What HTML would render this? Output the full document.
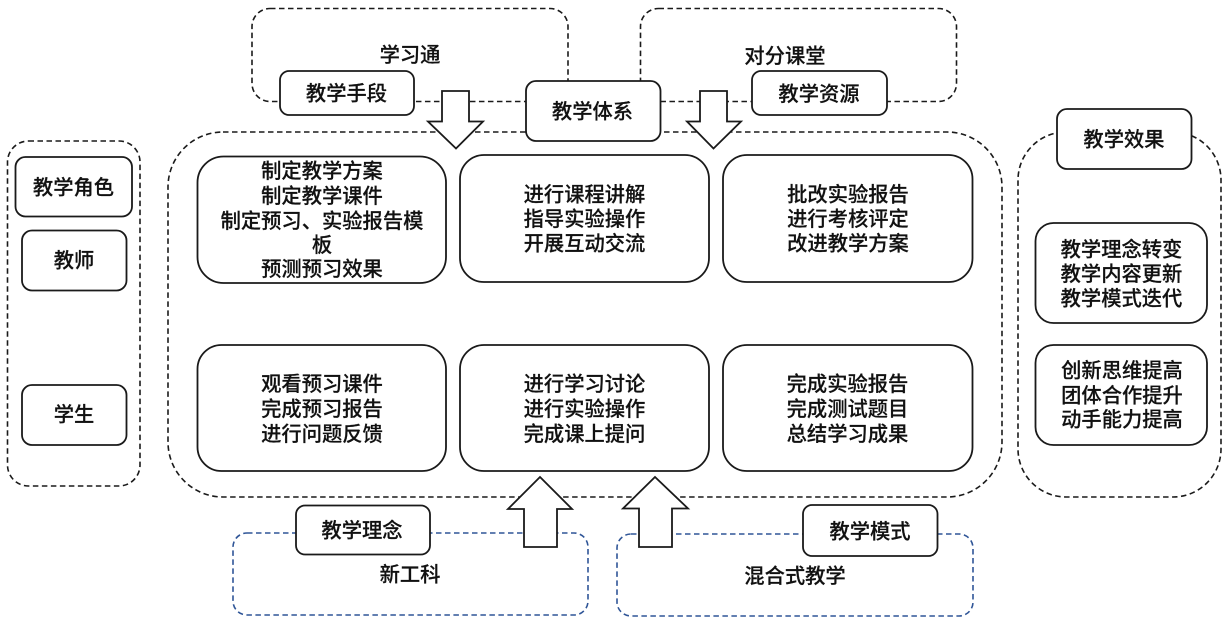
<!DOCTYPE html>
<html><head><meta charset="utf-8">
<style>
html,body{margin:0;padding:0;background:#fff;}
svg{display:block;filter:blur(.3px);}
text{font-family:"Liberation Sans","Noto Sans CJK SC",sans-serif;font-size:20.3px;fill:#111;stroke:#111;stroke-width:.2;text-anchor:middle;font-weight:500;}
.b{fill:#fff;stroke:#1a1a1a;stroke-width:1.8;}
.d{fill:none;stroke:#1a1a1a;stroke-width:1.6;stroke-dasharray:5.5 3.5;}
.u{fill:none;stroke:#2f5597;stroke-width:1.6;stroke-dasharray:5.5 3.5;}
</style></head><body>
<svg width="1228" height="622" viewBox="0 0 1228 622" xmlns="http://www.w3.org/2000/svg">
<rect width="1228" height="622" fill="#fff"/>
<rect class="d" x="7.5" y="141" width="132.500" height="345" rx="21"/>
<rect class="d" x="168" y="132" width="834" height="365" rx="55"/>
<rect class="d" x="1018" y="132" width="203" height="365" rx="48"/>
<rect class="d" x="252" y="8.500" width="316" height="93" rx="18"/>
<rect class="d" x="640.500" y="8.500" width="316" height="93" rx="18"/>
<rect class="u" x="233" y="533" width="355" height="82" rx="14"/>
<rect class="u" x="617" y="534" width="356" height="82" rx="14"/>
<text x="410" y="62">学习通</text>
<text x="785" y="63">对分课堂</text>
<text x="410" y="581.500">新工科</text>
<text x="795" y="583">混合式教学</text>
<path class="b" d="M442 91H469V121.500H483L456 148.500L428 121.500H442Z"/>
<path class="b" d="M700 91H727V121.500H741L713.500 148.500L687 121.500H700Z"/>
<path class="b" d="M524 547V509H508L540 477L572 509H557V547Z"/>
<path class="b" d="M639 547V508.500H623L655 477L688 508.500H672V547Z"/>
<rect class="b" x="280" y="71" width="134" height="44" rx="9"/><text x="346.500" y="100.500">教学手段</text>
<rect class="b" x="526" y="81" width="134.500" height="60" rx="10"/><text x="592.500" y="118.500">教学体系</text>
<rect class="b" x="752" y="71" width="135" height="44" rx="9"/><text x="819" y="101">教学资源</text>
<rect class="b" x="1057" y="109" width="134.500" height="60" rx="10"/><text x="1124" y="146.500">教学效果</text>
<rect class="b" x="296" y="505.500" width="134" height="49" rx="9"/><text x="362" y="537.500">教学理念</text>
<rect class="b" x="803" y="505" width="134.500" height="51" rx="9"/><text x="870" y="538.500">教学模式</text>
<rect class="b" x="15.500" y="157" width="116.500" height="59.500" rx="10"/><text x="73.500" y="194.500">教学角色</text>
<rect class="b" x="22" y="230.500" width="104.500" height="60" rx="10"/><text x="74" y="267.500">教师</text>
<rect class="b" x="22" y="385" width="104.500" height="60" rx="10"/><text x="74" y="421.500">学生</text>
<rect class="b" x="197.500" y="156.500" width="248.500" height="126.500" rx="26"/>
<text x="322" y="178">制定教学方案</text><text x="322" y="203">制定教学课件</text><text x="322" y="228">制定预习、实验报告模</text><text x="322" y="252">板</text><text x="322" y="276">预测预习效果</text>
<rect class="b" x="460" y="155" width="249" height="127" rx="24"/>
<text x="584.500" y="201.500">进行课程讲解</text><text x="584.500" y="226">指导实验操作</text><text x="584.500" y="250.500">开展互动交流</text>
<rect class="b" x="723" y="155" width="249.500" height="127" rx="24"/>
<text x="848" y="201.500">批改实验报告</text><text x="848" y="226">进行考核评定</text><text x="848" y="250.500">改进教学方案</text>
<rect class="b" x="197.500" y="345" width="248.500" height="126" rx="24"/>
<text x="322" y="391">观看预习课件</text><text x="322" y="416">完成预习报告</text><text x="322" y="441">进行问题反馈</text>
<rect class="b" x="460" y="345" width="249" height="126" rx="24"/>
<text x="584.500" y="391">进行学习讨论</text><text x="584.500" y="416">进行实验操作</text><text x="584.500" y="441">完成课上提问</text>
<rect class="b" x="723" y="345" width="249.500" height="126" rx="24"/>
<text x="847.500" y="391">完成实验报告</text><text x="847.500" y="416">完成测试题目</text><text x="847.500" y="441">总结学习成果</text>
<rect class="b" x="1035.500" y="223" width="171.500" height="100" rx="18"/>
<text x="1121.500" y="256.500">教学理念转变</text><text x="1121.500" y="281">教学内容更新</text><text x="1121.500" y="305.500">教学模式迭代</text>
<rect class="b" x="1035.500" y="345" width="171.500" height="100" rx="18"/>
<text x="1122" y="377.500">创新思维提高</text><text x="1122" y="402.500">团体合作提升</text><text x="1122" y="426.500">动手能力提高</text>
</svg>
</body></html>
